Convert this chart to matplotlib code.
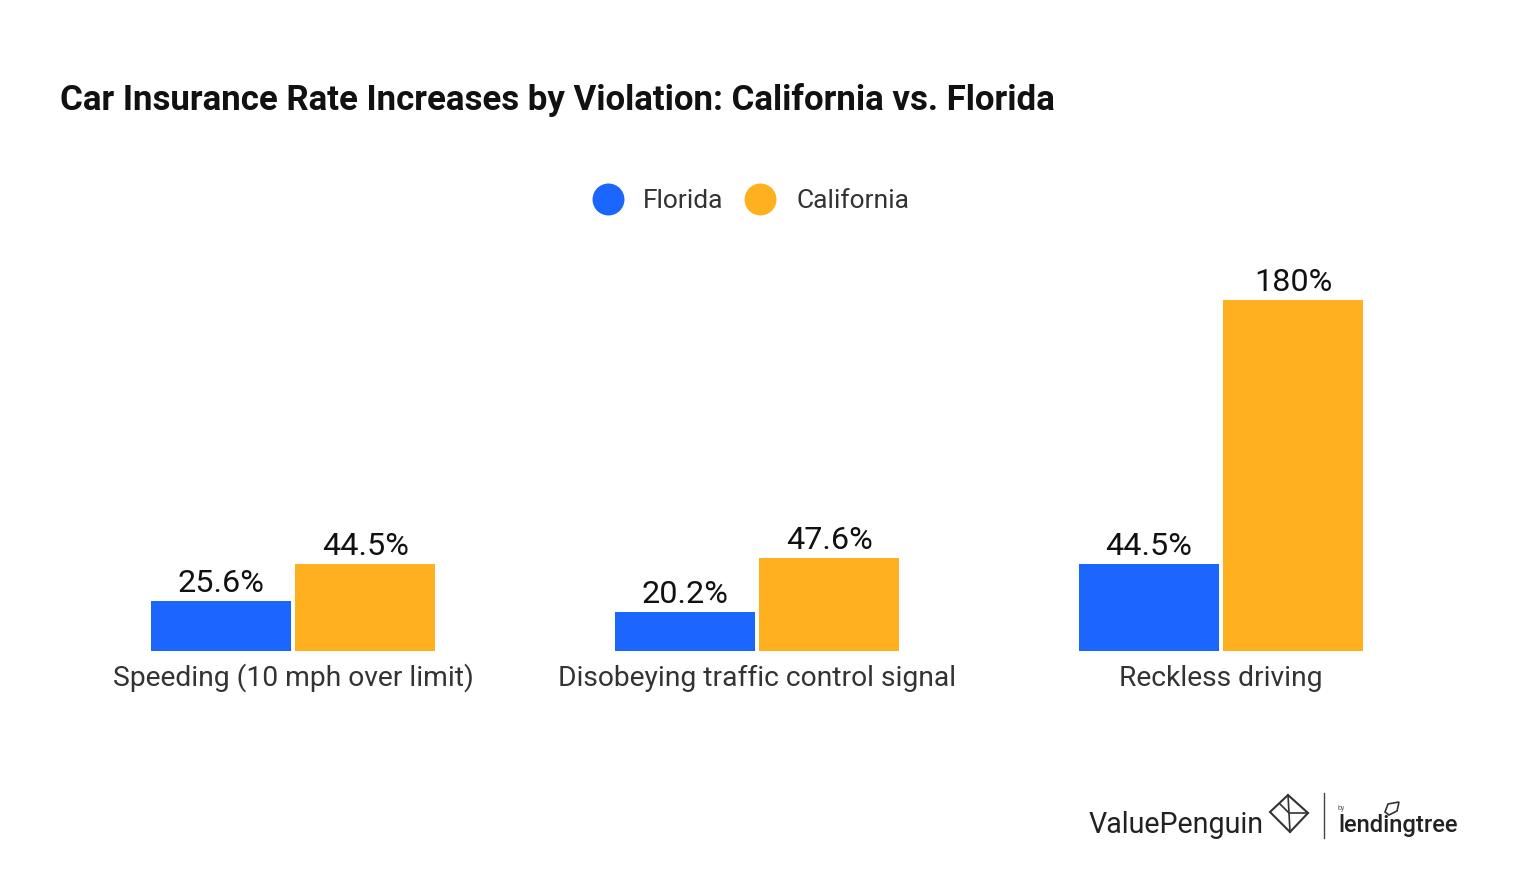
#!/usr/bin/env python3
"""Car insurance rate increases, grouped bars"""

import numpy as np
import matplotlib
matplotlib.use("Agg")
import matplotlib.pyplot as plt
from matplotlib.lines import Line2D
from matplotlib.patches import Polygon

plt.rcParams['font.family'] = ['Roboto', 'DejaVu Sans']

categories = ["Speeding (10 mph over limit)", "Disobeying traffic control signal", "Reckless driving"]
florida = [25.6, 20.2, 44.5]
california = [44.5, 47.6, 180]
florida_labels = ["25.6%", "20.2%", "44.5%"]
california_labels = ["44.5%", "47.6%", "180%"]

W, H = 1520, 872
BLUE = "#1A66FF"
ORANGE = "#FFB01F"
DARK = "#333333"

fig = plt.figure(figsize=(W/100, H/100), dpi=100)
fig.patch.set_facecolor('white')

# axes placed in pixels: baseline at y=651, 180% at y=300
left, right = 60, 1480
ax = fig.add_axes([left/W, (H-651)/H, (right-left)/W, 351/H])
ax.set_xlim(left, right)
ax.set_ylim(0, 180)
ax.axis('off')

centers = np.array([293, 757, 1221])
bar_w = 140
gap = 4.5
b1 = ax.bar(centers - bar_w/2 - gap/2, florida, bar_w, color=BLUE)
b2 = ax.bar(centers + bar_w/2 + gap/2, california, bar_w, color=ORANGE)
ax.bar_label(b1, florida_labels, padding=2, fontsize=23.3, color='#111111')
ax.bar_label(b2, california_labels, padding=2, fontsize=23.3, color='#111111')

def ftext(x, y, s, **kw):
    return fig.text(x/W, 1 - y/H, s, **kw)

def fline(xs, ys, **kw):
    fig.add_artist(Line2D([x/W for x in xs], [1 - y/H for y in ys],
                          transform=fig.transFigure, **kw))

for c, name in zip(centers, categories):
    ftext(c, 678, name, ha='center', va='center', fontsize=20.3, color=DARK)

# title
ftext(60, 100, "Car Insurance Rate Increases by Violation: California vs. Florida",
      ha='left', va='center', fontsize=25.1, fontweight='bold', color='#111111')

# legend
for x, col, name, tx in [(608, BLUE, "Florida", 643), (760, ORANGE, "California", 796)]:
    fline([x], [199], marker='o', ms=23, color=col, mew=0)
    ftext(tx, 201, name, ha='left', va='center', fontsize=19, color=DARK)

# logo
ftext(1089, 825, "ValuePenguin", ha='left', va='center', fontsize=20.6, color='#222222')
ftext(1338, 825, "lendingtree", ha='left', va='center', fontsize=17.1, fontweight='medium', color='#222222')
ftext(1338, 808, "by", ha='left', va='center', fontsize=5, color='#666666')
fline([1324, 1324], [793, 838], color='#444444', lw=1)
diamond = [(1288, 795), (1308, 813), (1290, 832), (1270, 812)]
fig.add_artist(Polygon([(x/W, 1 - y/H) for x, y in diamond], closed=True, fill=False,
                       ec='#333333', lw=1.5, transform=fig.transFigure))
fline([1288, 1289, 1290], [795, 813, 832], color='#333333', lw=1.2)
fline([1280, 1289, 1308], [804, 813, 813], color='#333333', lw=1.2)
# leaf over the i of lendingtree
leaf = [(1385, 812), (1388, 804), (1399, 802), (1397, 811), (1389, 815)]
fig.add_artist(Polygon([(x/W, 1 - y/H) for x, y in leaf], closed=True, fill=False,
                       ec='#333333', lw=1.2, transform=fig.transFigure))

fig.savefig("out.png", dpi=100)
